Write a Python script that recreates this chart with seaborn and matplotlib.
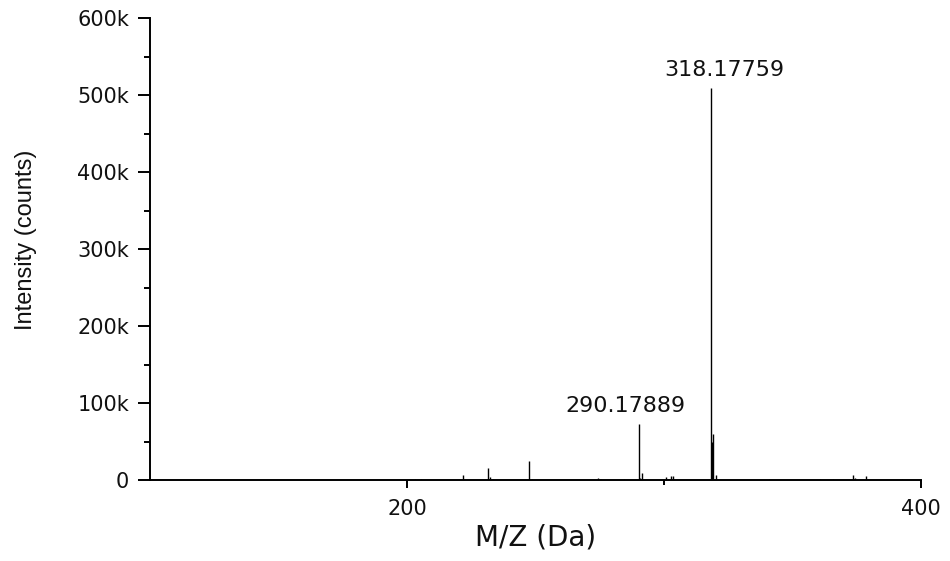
import matplotlib
matplotlib.use("Agg")
import matplotlib.pyplot as plt
import seaborn as sns
import pandas as pd
from matplotlib.ticker import FixedLocator, MultipleLocator

# ---- data ----
mz = [203.2, 205.6, 221.6, 231.5, 232.4, 233.4, 247.5, 248.5, 274.2, 275.0,
      275.6, 279.8, 284.3, 290.18, 290.8, 291.5, 300.9, 302.7, 303.5, 318.18,
      318.6, 319.2, 320.3, 340.7, 360.6, 365.6, 373.4, 374.2, 378.7, 392.7]
intensity = [1000, 1000, 6500, 15600, 3500, 1000, 24500, 1200, 2000, 1500,
             1500, 500, 800, 72700, 3000, 9000, 4000, 5000, 5000, 510000,
             50000, 60000, 6000, 1000, 1000, 1500, 6000, 2000, 5500, 1500]

label_mz = [290.18, 318.18]
label_int = [72700, 510000]
label_text = ["290.17889", "318.17759"]

y_ticks = [0, 100000, 200000, 300000, 400000, 500000, 600000]
y_tick_labels = ["0", "100k", "200k", "300k", "400k", "500k", "600k"]
x_ticks = [200, 400]
x_tick_labels = ["200", "400"]

sns.set_theme(style="ticks")
plt.rcParams['font.family'] = ['DejaVu Sans']

df = pd.DataFrame({"mz": mz, "intensity": intensity})

fig = plt.figure(figsize=(9.5, 5.61), dpi=100)
ax = fig.add_axes([150 / 950, 81 / 561, 771 / 950, 461.7 / 561])

ax.vlines(df["mz"], 0, df["intensity"], color="black", lw=1.0)

offsets = [-9.5, 9.5]
for x, y, t, dx in zip(label_mz, label_int, label_text, offsets):
    ax.annotate(t, xy=(x, y), xytext=(dx, 8.6), textcoords="offset points",
                ha="center", va="baseline", fontsize=16, color="#111111")

ax.set_xlim(100, 400)
ax.set_ylim(0, 600000)
ax.xaxis.set_major_locator(FixedLocator(x_ticks))
ax.set_xticklabels(x_tick_labels)
ax.xaxis.set_minor_locator(FixedLocator([300]))
ax.yaxis.set_major_locator(FixedLocator(y_ticks))
ax.set_yticklabels(y_tick_labels)
ax.yaxis.set_minor_locator(MultipleLocator(50000))

sns.despine(ax=ax)
for s in ["left", "bottom"]:
    ax.spines[s].set_color("black")
    ax.spines[s].set_linewidth(1.4)

ax.tick_params(axis="y", which="major", length=8.6, width=1.4, pad=6.5,
               labelsize=15, color="black", labelcolor="#111111", direction="out")
ax.tick_params(axis="y", which="minor", length=4.3, width=1.4, color="black", direction="out")
ax.tick_params(axis="x", which="major", length=5.8, width=1.4, pad=8,
               labelsize=15, color="black", labelcolor="#111111", direction="out")
ax.tick_params(axis="x", which="minor", length=3.6, width=1.4, color="black", direction="out")

ax.set_xlabel("M/Z (Da)", fontsize=20, color="#111111")
ax.xaxis.set_label_coords(0.5, -0.095)
ax.xaxis.label.set_va("top")
ax.set_ylabel("Intensity (counts)", fontsize=17, color="#111111",
              family=["Liberation Sans", "DejaVu Sans"])
ax.yaxis.set_label_coords(-0.147, 0.52)

fig.savefig("out.png", dpi=100, facecolor="white")
